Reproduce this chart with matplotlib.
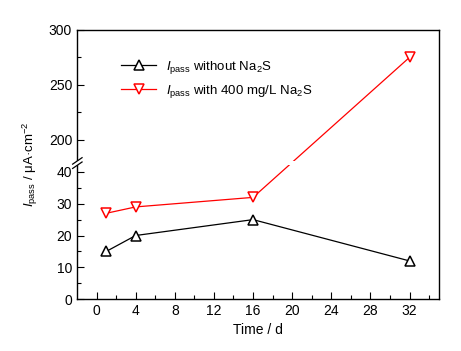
import numpy as np
import matplotlib
matplotlib.use("Agg")
import matplotlib.pyplot as plt
from matplotlib.patches import Rectangle

plt.rcParams["font.family"] = ["Liberation Sans", "DejaVu Sans"]
plt.rcParams["mathtext.fontset"] = "custom"
plt.rcParams["mathtext.rm"] = "Liberation Sans"
plt.rcParams["mathtext.it"] = "Liberation Sans:italic"

time_d = [1, 4, 16, 32]
ipass_without = [15, 20, 25, 12]
ipass_with = [27, 29, 32, 275]

# broken y axis: 0..B1 linear, B2..300 compressed
B1, B2 = 42.8, 179.0
R = 1.1 / 3.175
EPS = 0.01


def fwd(y):
    y = np.asarray(y, dtype=float)
    return np.where(y <= B1, y,
                    np.where(y >= B2, B1 + EPS + (y - B2) * R,
                             B1 + (y - B1) / (B2 - B1) * EPS))


def inv(v):
    v = np.asarray(v, dtype=float)
    return np.where(v <= B1, v,
                    np.where(v >= B1 + EPS, B2 + (v - B1 - EPS) / R,
                             B1 + (v - B1) / EPS * (B2 - B1)))


fig = plt.figure(figsize=(4.61, 3.51), dpi=100)
ax = fig.add_axes([0.167, 0.148, 0.785, 0.767])
ax.set_yscale("function", functions=(fwd, inv))

ax.plot(time_d, ipass_without, color="black", lw=0.9, marker="^", ms=6.5,
        mfc="white", mec="black", mew=1.1,
        label=r"$I_{\rm pass}$ without Na$_2$S")
ax.plot(time_d, ipass_with, color="red", lw=0.9, marker="v", ms=6.5,
        mfc="white", mec="red", mew=1.1,
        label=r"$I_{\rm pass}$ with 400 mg/L Na$_2$S")

ax.set_xlim(-2, 35)
ax.set_ylim(0, 300)
ax.set_xticks(range(0, 33, 4))
ax.set_xticks(range(2, 35, 4), minor=True)
ax.set_yticks([0, 10, 20, 30, 40, 200, 250, 300])
ax.set_yticks([5, 15, 25, 35, 225, 275], minor=True)
ax.set_yticklabels(["0", "10", "20", "30", "40", "200", "250", "300"])
ax.tick_params(which="both", direction="in", labelsize=10, width=0.8)
ax.tick_params(which="major", length=5)
ax.tick_params(which="minor", length=3)
for s in ax.spines.values():
    s.set_linewidth(1.0)

# break band: white strip and slanted marks on the left spine
yb = ax.transAxes.inverted().transform(ax.transData.transform((0, B1 + EPS / 2)))[1]
ax.add_patch(Rectangle((-0.02, yb - 0.008), 1.0, 0.016, transform=ax.transAxes,
                       facecolor="white", edgecolor="none", zorder=5, clip_on=False))
for dy in (-0.008, 0.008):
    ax.plot([-0.012, 0.014], [yb + dy - 0.012, yb + dy + 0.012], transform=ax.transAxes,
            color="black", lw=0.9, clip_on=False, zorder=6)

ax.set_xlabel("Time / d", fontsize=10, labelpad=4)
ax.set_ylabel(r"$I_{\rm pass}$ / μA·cm$^{-2}$", fontsize=9.5, labelpad=6)

ax.legend(loc="upper left", bbox_to_anchor=(0.09, 0.935), frameon=False,
          fontsize=9.5, handlelength=2.6, labelspacing=0.5)

fig.savefig("out.png", dpi=100)
